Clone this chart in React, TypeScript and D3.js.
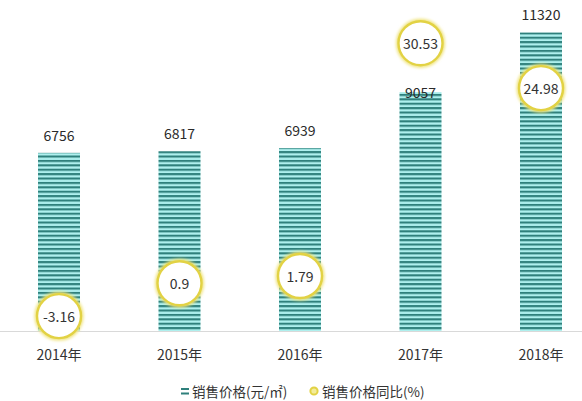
import React from "react";
import * as d3 from "d3";

const years = ["2014年", "2015年", "2016年", "2017年", "2018年"];
const prices = [6756, 6817, 6939, 9057, 11320];
const yoy = [-3.16, 0.9, 1.79, 30.53, 24.98];
const yoyLabels = ["-3.16", "0.9", "1.79", "30.53", "24.98"];
const legendLabels = ["销售价格(元/㎡)", "销售价格同比(%)"];

const W = 582;
const H = 401;
const BASE = 331;
const BAR_W = 42;
const R = 22;
const FONT = "'Noto Sans CJK SC', 'Noto Sans', sans-serif";

export default function App() {
  const x = d3.scalePoint<string>().domain(years).range([59, 541]);
  const y = d3.scaleLinear().domain([0, 12000]).range([BASE, BASE - 12000 * 0.02637]);
  const y2 = d3.scaleLinear().domain([-5, 35]).range([BASE, 7]);

  return (
    <svg
      width={W}
      height={H}
      style={{ position: "absolute", left: 0, top: 0, display: "block", background: "#fff" }}
      fontFamily={FONT}
    >
      <defs>
        <pattern id="stripes" patternUnits="userSpaceOnUse" width="10" height="4.4" y="1.5">
          <rect x="0" y="0" width="10" height="4.4" fill="#aef0ee" />
          <rect x="0" y="0" width="10" height="2.1" fill="#2f807c" />
        </pattern>
        <filter id="glow" x="-30%" y="-30%" width="160%" height="160%">
          <feGaussianBlur stdDeviation="1.6" />
        </filter>
      </defs>
      <rect x={0} y={0} width={W} height={H} fill="#fff" />
      <line x1={0} x2={W} y1={BASE + 0.5} y2={BASE + 0.5} stroke="#d9d9d9" strokeWidth={1} />

      {years.map((yr, i) => {
        const cx = x(yr) as number;
        const top = y(prices[i]);
        return (
          <rect
            key={"b" + yr}
            x={cx - BAR_W / 2}
            y={top}
            width={BAR_W}
            height={BASE - top}
            fill="url(#stripes)"
          />
        );
      })}

      {years.map((yr, i) => {
        const cx = x(yr) as number;
        const top = y(prices[i]);
        const cy = y2(yoy[i]);
        let ly = top - 18;
        if (Math.abs(ly - cy) < R + 10) ly = top;
        return (
          <text
            key={"v" + yr}
            x={cx}
            y={ly}
            textAnchor="middle"
            dominantBaseline="central"
            fontSize={14}
            fill="#2a2a2a"
          >
            {prices[i]}
          </text>
        );
      })}

      {years.map((yr, i) => {
        const cx = x(yr) as number;
        const cy = y2(yoy[i]);
        return (
          <g key={"c" + yr}>
            <circle cx={cx} cy={cy} r={R} fill="none" stroke="#efe37a" strokeWidth={5} filter="url(#glow)" />
            <circle cx={cx} cy={cy} r={R} fill="#fff" stroke="#e2d244" strokeWidth={2.4} />
            <text
              x={cx}
              y={cy}
              textAnchor="middle"
              dominantBaseline="central"
              fontSize={14}
              fill="#333"
            >
              {yoyLabels[i]}
            </text>
          </g>
        );
      })}

      {years.map((yr) => (
        <text
          key={"x" + yr}
          x={x(yr) as number}
          y={354}
          textAnchor="middle"
          dominantBaseline="central"
          fontSize={14}
          fill="#333"
        >
          {yr}
        </text>
      ))}

      <g>
        <rect x={181} y={388} width={8} height={2} fill="#2f807c" />
        <rect x={181} y={392.5} width={8} height={2} fill="#2f807c" />
        <text x={192} y={391} dominantBaseline="central" fontSize={13.5} fill="#333">
          {legendLabels[0]}
        </text>
        <circle cx={314} cy={391} r={3.6} fill="#f3ec9a" stroke="#e2d244" strokeWidth={2} />
        <text x={322} y={391} dominantBaseline="central" fontSize={13.5} fill="#333">
          {legendLabels[1]}
        </text>
      </g>
    </svg>
  );
}
